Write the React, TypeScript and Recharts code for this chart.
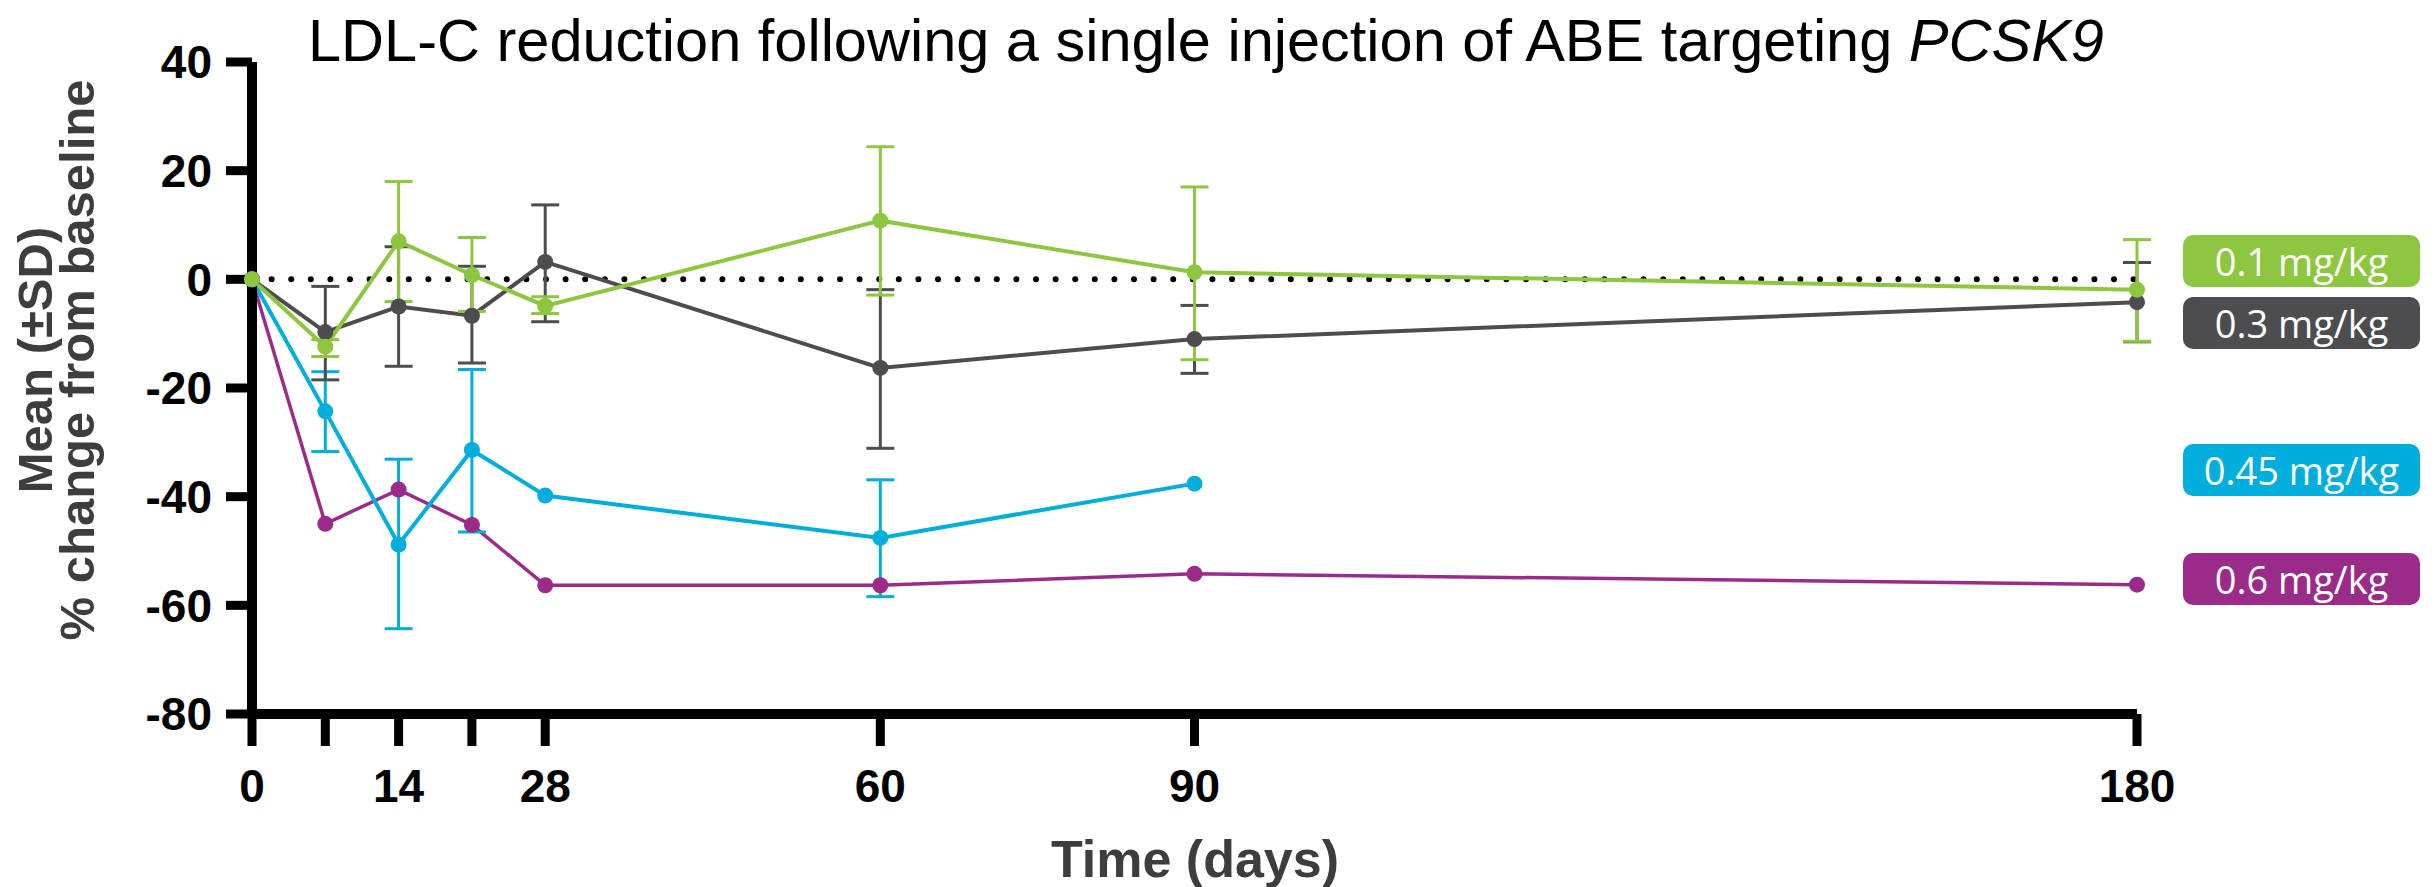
import React from "react";
import { LineChart, Line, XAxis, YAxis, ErrorBar, ReferenceLine } from "recharts";

// days after injection
const DAYS = [0, 7, 14, 21, 28, 60, 90, 180];
const TICK_DAYS = [0, 7, 14, 21, 28, 60, 90, 180];
const LABELED_DAYS = [0, 14, 28, 60, 90, 180];
const Y_TICKS = [-80, -60, -40, -20, 0, 20, 40];

// mean % change and the ends of the SD bars
const MEAN_01 = [0, -12.4, 7.0, 0.8, -4.9, 10.8, 1.3, -1.9];
const HI_01 = [null, -11.1, 18.0, 7.7, -3.2, 24.4, 17.0, 7.3];
const LO_01 = [null, -14.2, -4.1, -5.9, -6.3, -2.9, -14.8, -11.4];

const MEAN_03 = [0, -9.7, -5.0, -6.7, 3.2, -16.3, -11.0, -4.2];
const HI_03 = [null, -1.3, 6.0, 2.4, 13.7, -1.9, -4.8, 3.1];
const LO_03 = [null, -18.5, -16.0, -15.4, -7.8, -31.1, -17.3, -11.5];

const MEAN_045 = [0, -24.3, -48.8, -31.4, -39.8, -47.6, -37.6, null];
const HI_045 = [null, -17.0, -33.1, -16.6, null, -36.9, null, null];
const LO_045 = [null, -31.7, -64.3, -46.5, null, -58.4, null, null];

const MEAN_06 = [0, -45.0, -38.7, -45.2, -56.3, -56.3, -54.2, -56.2];

type Num = number | null;

const toRows = (mean: Num[], hi?: Num[], lo?: Num[]) =>
  DAYS.map((d, i) => {
    const m = mean[i];
    const h = hi ? hi[i] : null;
    const l = lo ? lo[i] : null;
    return {
      day: d,
      value: m,
      err: m != null && h != null && l != null ? [m - l, h - m] : null,
    };
  }).filter((r) => r.value != null);

// drawing order: bottom first
const SERIES = [
  { name: "0.6 mg/kg", color: "#9B2B88", rows: toRows(MEAN_06), bars: false, width: 3.5 },
  { name: "0.45 mg/kg", color: "#00AEDB", rows: toRows(MEAN_045, HI_045, LO_045), bars: true, width: 4 },
  { name: "0.3 mg/kg", color: "#4D4D4F", rows: toRows(MEAN_03, HI_03, LO_03), bars: true, width: 4 },
  { name: "0.1 mg/kg", color: "#8DC63F", rows: toRows(MEAN_01, HI_01, LO_01), bars: true, width: 4 },
];

// legend chips, top to bottom
const LEGEND = [
  { name: "0.1 mg/kg", color: "#8DC63F", top: 227 },
  { name: "0.3 mg/kg", color: "#4D4D4F", top: 289 },
  { name: "0.45 mg/kg", color: "#00AEDB", top: 436 },
  { name: "0.6 mg/kg", color: "#9B2B88", top: 545 },
];

const W = 2427;
const H = 879;
const FONT = "'Liberation Sans', Arial, Helvetica, sans-serif";
const tickStyle = { fontSize: 46, fontWeight: 700, fill: "#000", fontFamily: FONT };

export default function App() {
  return (
    <div style={{ position: "relative", width: W, height: H }}>
      <LineChart width={W} height={H} margin={{ top: 54, right: 298, bottom: 73, left: 144 }}>
        <XAxis
          dataKey="day"
          type="number"
          domain={[0, 180]}
          ticks={TICK_DAYS}
          interval={0}
          height={100}
          tickFormatter={(v: number) => (LABELED_DAYS.includes(v) ? String(v) : "")}
          axisLine={{ stroke: "#000", strokeWidth: 10 }}
          tickLine={{ stroke: "#000", strokeWidth: 9 }}
          tickSize={32}
          tickMargin={23}
          tick={tickStyle}
          allowDuplicatedCategory={false}
        />
        <YAxis
          type="number"
          domain={[-80, 40]}
          ticks={Y_TICKS}
          interval={0}
          width={100}
          axisLine={{ stroke: "#000", strokeWidth: 10 }}
          tickLine={{ stroke: "#000", strokeWidth: 9 }}
          tickSize={26}
          tickMargin={14}
          tick={tickStyle}
        />
        <ReferenceLine
          y={0}
          stroke="#000"
          strokeWidth={6}
          strokeDasharray="0 19.6"
          strokeLinecap="round"
        />
        {SERIES.map((s) => (
          <Line
            key={s.name}
            name={s.name}
            data={s.rows}
            dataKey="value"
            type="linear"
            stroke={s.color}
            strokeWidth={s.width}
            dot={{ r: 8, fill: s.color, stroke: s.color, strokeWidth: 0 }}
            activeDot={false}
            isAnimationActive={false}
          >
            {s.bars && (
              <ErrorBar dataKey="err" direction="y" width={14} strokeWidth={3} stroke={s.color} />
            )}
          </Line>
        ))}
      </LineChart>

      <svg
        width={W}
        height={H}
        style={{ position: "absolute", left: 0, top: 0, pointerEvents: "none" }}
      >
        <text x={1198} y={53} textAnchor="middle" fontSize={59.5} fontFamily={FONT} fill="#000">
          LDL-C reduction following a single injection of ABE targeting{" "}
          <tspan fontStyle="italic">PCSK9</tspan>
        </text>
        <text
          x={1187}
          y={869}
          textAnchor="middle"
          fontSize={52}
          fontWeight={700}
          fontFamily={FONT}
          fill="#3d3d3d"
        >
          Time (days)
        </text>
        <g fontSize={49} fontWeight={700} fontFamily={FONT} fill="#3d3d3d" textAnchor="middle">
          <text transform="translate(44,352) rotate(-90)">Mean (±SD)</text>
          <text transform="translate(86,352) rotate(-90)">% change from baseline</text>
        </g>
      </svg>

      {LEGEND.map((l) => (
        <div
          key={l.name}
          style={{
            position: "absolute",
            left: 2175,
            top: l.top,
            width: 237,
            height: 52,
            borderRadius: 10,
            background: l.color,
            color: "#fff",
            fontFamily: "'Open Sans', 'Noto Sans', sans-serif",
            fontWeight: 500,
            fontSize: 38,
            display: "flex",
            alignItems: "center",
            justifyContent: "center",
          }}
        >
          {l.name}
        </div>
      ))}
    </div>
  );
}
